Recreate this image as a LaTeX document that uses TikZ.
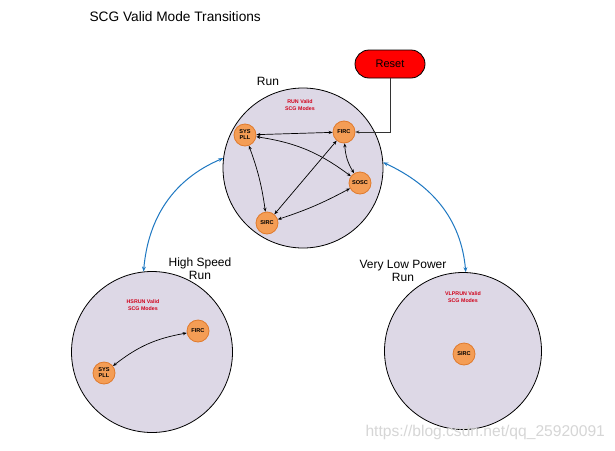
\documentclass[tikz,border=0pt]{standalone}
\usepackage{fontspec}
\setmainfont{Liberation Sans}
\usetikzlibrary{arrows.meta}
\definecolor{modefill}{HTML}{DDD8E6}
\definecolor{clkfill}{HTML}{F49D55}
\definecolor{clkdraw}{HTML}{E07A2C}
\definecolor{bluearr}{HTML}{1E78C2}
\definecolor{redtxt}{HTML}{D0021B}
\tikzset{
  modecircle/.style={circle, draw=black, line width=0.8pt, fill=modefill, minimum size=#1, inner sep=0pt},
  clk/.style={circle, draw=clkdraw, line width=0.8pt, fill=clkfill, minimum size=22pt, inner sep=0pt, font=\fontsize{5.6}{6}\selectfont\bfseries, align=center},
  redlabel/.style={font=\fontsize{5.3}{7}\selectfont\bfseries, text=redtxt, align=center},
  modelabel/.style={font=\fontsize{12}{13}\selectfont, align=center},
  biarrow/.style={line width=0.7pt, {Stealth[length=4pt,width=3.2pt]}-{Stealth[length=4pt,width=3.2pt]}},
  bluelink/.style={draw=bluearr, line width=1pt, {Stealth[length=5pt,width=4pt]}-{Stealth[length=5pt,width=4pt]}},
}
\begin{document}
\begin{tikzpicture}[x=1pt,y=-1pt]
\useasboundingbox (0,0) rectangle (615,450);
\fill[white] (0,0) rectangle (615,450);
\node[anchor=west, font=\fontsize{13.7}{15}\selectfont] (title) at (86,17) {SCG Valid Mode Transitions};

% mode circles
\node[modecircle=160pt] (runC) at (303,168) {};
\node[modecircle=161pt] (hsC) at (152,352) {};
\node[modecircle=157pt] (vlpC) at (463,351) {};

\node[modelabel] (runL) at (268,81) {Run};
\node[modelabel] (hsL) at (200,268.5) {High Speed\\Run};
\node[modelabel] (vlpL) at (403,270.5) {Very Low Power\\Run};

\node[redlabel] (runR) at (300,105) {RUN Valid\\SCG Modes};
\node[redlabel] (hsR) at (143,305) {HSRUN Valid\\SCG Modes};
\node[redlabel] (vlpR) at (463,297) {VLPRUN Valid\\SCG Modes};

% Run clocks
\node[clk] (rsys) at (245,135) {SYS\\PLL};
\node[clk] (rfirc) at (344,132) {FIRC};
\node[clk] (rsosc) at (360,183) {SOSC};
\node[clk] (rsirc) at (267,223) {SIRC};

\draw[biarrow] (rsys) -- (rfirc);
\draw[biarrow] (rsys) to[bend left=14] (rsosc);
\draw[biarrow] (rsys) to[bend left=6] (rsirc);
\draw[biarrow] (rfirc) -- (rsirc);
\draw[biarrow] (rfirc) to[bend right=14] (rsosc);
\draw[biarrow] (rsosc) to[bend left=5] (rsirc);

% HSRUN clocks
\node[clk] (hsys) at (104,373) {SYS\\PLL};
\node[clk] (hfirc) at (198,331) {FIRC};
\draw[biarrow] (hsys) to[bend left=14] (hfirc);

% VLPRUN clock
\node[clk] (vsirc) at (464,354) {SIRC};

% Reset
\node[draw=black, line width=0.8pt, fill=red, rounded corners=14pt, minimum width=70pt, minimum height=28pt, font=\fontsize{11}{12}\selectfont] (reset) at (390,64) {Reset};
\draw[line width=0.7pt, draw=black!80, -{Stealth[length=4pt,width=3.2pt]}] (reset.south) |- (rfirc.east);

% transitions between modes
\draw[bluelink] (runC.173) to[out=203,in=85] (hsC.96);
\draw[bluelink] (runC.4) to[out=-25,in=95] (vlpC.88);

% watermark
\node[anchor=west, font=\fontsize{15.6}{16}\selectfont, text=black!16] (wm) at (362,432) {https://blog.csdn.net/qq\_25920091};
\end{tikzpicture}
\end{document}
